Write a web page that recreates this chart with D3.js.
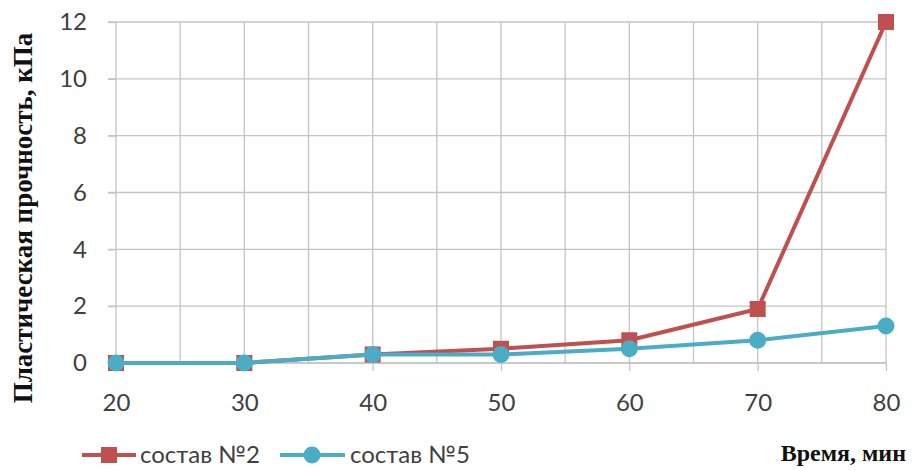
<!DOCTYPE html>
<meta charset="utf-8">
<html>
<head>
    <title>Пластическая прочность</title>
    <script src="https://cdn.jsdelivr.net/npm/d3@7"></script>
</head>
<style>
    body{ margin:0; background:#fff; }
    svg{ display:block; }
    .tick text{ font-family: Lato, "Liberation Sans", sans-serif; font-size:24px; fill:#404040; }
    .title{ font-family: "Liberation Serif", "Times New Roman", serif; font-weight:bold; fill:#111; }
    .legend{ font-family: Lato, "Liberation Sans", sans-serif; font-size:24px; fill:#404040; }
</style>
<body>
<svg width="912" height="470"></svg>
<script>
    // data
    const minutes = [20, 30, 40, 50, 60, 70, 80]
    const sostav2 = [0, 0, 0.3, 0.5, 0.8, 1.9, 12]
    const sostav5 = [0, 0, 0.3, 0.3, 0.5, 0.8, 1.3]
    const seriesNames = ["состав №2", "состав №5"]
    const yTicks = [0, 2, 4, 6, 8, 10, 12]

    const svg = d3.select("svg")
    const plotLeft = 116, plotRight = 886, plotTop = 22, plotBottom = 363
    const gridColor = "#c4c4c4"

    const x = d3.scaleLinear().domain([20, 80]).range([plotLeft, plotRight])
    const y = d3.scaleLinear().domain([0, 12]).range([plotBottom, plotTop])

    // vertical grid every 5 min
    svg.append("g").selectAll("line")
        .data(d3.range(25, 81, 5))
        .enter().append("line")
        .attr("x1", d => x(d)).attr("x2", d => x(d))
        .attr("y1", plotTop).attr("y2", plotBottom)
        .attr("stroke", gridColor).attr("stroke-width", 1.3)

    // horizontal grid
    svg.append("g").selectAll("line")
        .data(yTicks)
        .enter().append("line")
        .attr("x1", plotLeft - 8).attr("x2", plotRight)
        .attr("y1", d => y(d)).attr("y2", d => y(d))
        .attr("stroke", gridColor).attr("stroke-width", 1.3)

    // y axis
    const yAxis = svg.append("g")
        .attr("transform", `translate(${plotLeft},0)`)
        .call(d3.axisLeft(y).tickValues(yTicks).tickSize(8).tickPadding(21))
    yAxis.selectAll("line, path").attr("stroke", gridColor).attr("stroke-width", 1.3)
    yAxis.select(".domain").attr("d", `M0,${plotTop}V${plotBottom}`)

    // x axis
    const xAxis = svg.append("g")
        .attr("transform", `translate(0,${plotBottom})`)
        .call(d3.axisBottom(x).tickValues(minutes).tickSize(8).tickPadding(23))
    xAxis.selectAll("line, path").attr("stroke", gridColor).attr("stroke-width", 1.3)
    xAxis.select(".domain").attr("d", `M${plotLeft},0H${plotRight}`)

    const line = d3.line().x((d, i) => x(minutes[i])).y(d => y(d))
    const colors = ["#c0504d", "#4bacc6"]

    // состав №2
    svg.append("path").datum(sostav2)
        .attr("d", line).attr("fill", "none")
        .attr("stroke", colors[0]).attr("stroke-width", 4)
    svg.append("g").selectAll("rect")
        .data(sostav2).enter().append("rect")
        .attr("x", (d, i) => x(minutes[i]) - 8).attr("y", d => y(d) - 8)
        .attr("width", 16).attr("height", 16)
        .attr("fill", colors[0])

    // состав №5
    svg.append("path").datum(sostav5)
        .attr("d", line).attr("fill", "none")
        .attr("stroke", colors[1]).attr("stroke-width", 4)
    svg.append("g").selectAll("circle")
        .data(sostav5).enter().append("circle")
        .attr("cx", (d, i) => x(minutes[i])).attr("cy", d => y(d))
        .attr("r", 8.5)
        .attr("fill", colors[1])

    // titles
    svg.append("text").attr("class", "title")
        .attr("transform", "translate(32,218) rotate(-90)")
        .attr("text-anchor", "middle")
        .style("font-size", "27px")
        .text("Пластическая прочность, кПа")
    svg.append("text").attr("class", "title")
        .attr("x", 906).attr("y", 461)
        .attr("text-anchor", "end")
        .style("font-size", "24px")
        .text("Время, мин")

    // legend
    const lg = svg.append("g").attr("transform", "translate(0,455)")
    lg.append("line").attr("x1", 82).attr("x2", 136).attr("stroke", colors[0]).attr("stroke-width", 4)
    lg.append("rect").attr("x", 101).attr("y", -8).attr("width", 16).attr("height", 16).attr("fill", colors[0])
    lg.append("text").attr("class", "legend").attr("x", 140).attr("y", 8).text(seriesNames[0])
    lg.append("line").attr("x1", 280).attr("x2", 345).attr("stroke", colors[1]).attr("stroke-width", 4)
    lg.append("circle").attr("cx", 312).attr("cy", 0).attr("r", 8.5).attr("fill", colors[1])
    lg.append("text").attr("class", "legend").attr("x", 350).attr("y", 8).text(seriesNames[1])
</script>
</body>
</html>
